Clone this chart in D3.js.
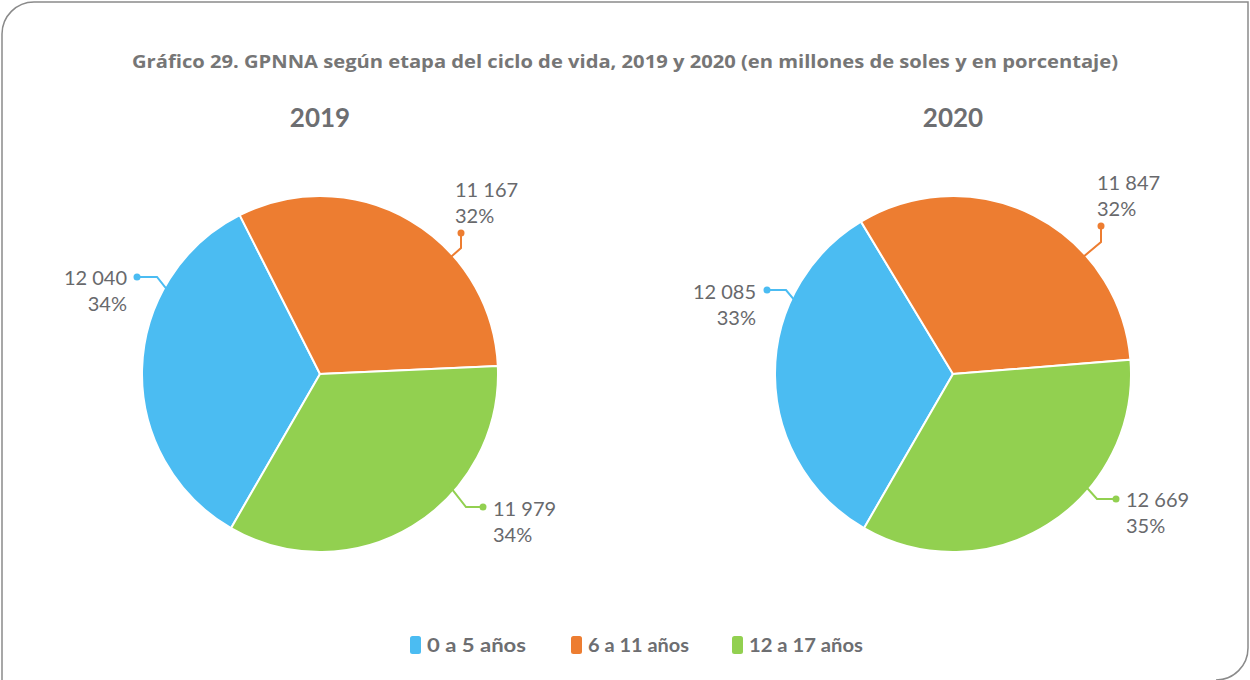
<!DOCTYPE html>
<html lang="es">
<head>
    <meta charset="UTF-8">
    <title>Gráfico 29. GPNNA según etapa del ciclo de vida</title>
    <style>
        body, html {
            margin: 0;
            padding: 0;
            background: #ffffff;
        }
        svg {
            display: block;
        }
        .title {
            font-family: 'Open Sans', sans-serif;
            font-weight: 700;
            font-size: 18px;
            fill: #767676;
        }
        .year {
            font-family: 'Lato', sans-serif;
            font-weight: 700;
            font-size: 26px;
            fill: #6d6e71;
        }
        .lbl {
            font-family: 'Lato', sans-serif;
            font-size: 20px;
            fill: #68696c;
        }
        .legend text {
            font-family: 'Lato', sans-serif;
            font-weight: 700;
            font-size: 19px;
            fill: #6d6e71;
        }
    </style>
</head>
<body>
    <svg width="1250" height="680"></svg>

    <script src="https://d3js.org/d3.v7.min.js"></script>
    <script>
        // data
        const categories = ["0 a 5 años", "6 a 11 años", "12 a 17 años"];
        const years = ["2019", "2020"];
        const values2019 = [12040, 11167, 11979];
        const values2020 = [12085, 11847, 12669];
        const colors = ["#4bbcf2", "#ed7d31", "#92d050"];

        // where each pie sits and where its labels go (relative to pie centre)
        const pieLayout = [
            {
                cx: 320, cy: 374, values: values2019,
                labels: [
                    { rim: 298.5, elbow: [-163, -97], dot: [-183, -97], tx: -193, ty: -89, anchor: "end" },
                    { rim: 48.2, elbow: [141, -126], dot: [141, -141], tx: 135, ty: -177, anchor: "start" },
                    { rim: 130.9, elbow: [146, 133], dot: [163, 133], tx: 173, ty: 142, anchor: "start" }
                ]
            },
            {
                cx: 953, cy: 374, values: values2020,
                labels: [
                    { rim: 294.5, elbow: [-167, -84], dot: [-186, -84], tx: -197, ty: -75, anchor: "end" },
                    { rim: 48, elbow: [148, -132], dot: [148, -148], tx: 144, ty: -184, anchor: "start" },
                    { rim: 130.2, elbow: [144, 125], dot: [163, 125], tx: 173, ty: 133, anchor: "start" }
                ]
            }
        ];

        const radius = 178;
        const firstSlice = 210 * Math.PI / 180; // Excel-style first slice angle

        const svg = d3.select("svg");

        // frame: rounded top-left and bottom-right corners
        svg.append("path")
            .attr("d", "M2,34 A32,32 0 0 1 34,2 L1248,2 L1248,648 A32,32 0 0 1 1216,680")
            .attr("fill", "none")
            .attr("stroke", "#8a8a8a")
            .attr("stroke-width", 1.5);
        svg.append("line")
            .attr("x1", 2).attr("y1", 34).attr("x2", 2).attr("y2", 680)
            .attr("stroke", "#8a8a8a").attr("stroke-width", 1.5);

        svg.append("text")
            .attr("class", "title")
            .attr("x", 625)
            .attr("y", 68)
            .attr("text-anchor", "middle")
            .attr("textLength", 986)
            .attr("lengthAdjust", "spacingAndGlyphs")
            .text("Gráfico 29. GPNNA según etapa del ciclo de vida, 2019 y 2020 (en millones de soles y en porcentaje)");

        const fmt = d3.formatLocale({ decimal: ",", thousands: " ", grouping: [3], currency: ["", ""] }).format(",d");

        const pie = d3.pie()
            .sort(null)
            .startAngle(firstSlice)
            .endAngle(firstSlice + 2 * Math.PI);

        const arc = d3.arc().innerRadius(0).outerRadius(radius);

        pieLayout.forEach((p, pi) => {
            const total = d3.sum(p.values);
            const g = svg.append("g").attr("transform", `translate(${p.cx},${p.cy})`);

            svg.append("text")
                .attr("class", "year")
                .attr("x", p.cx)
                .attr("y", 127)
                .attr("text-anchor", "middle")
                .text(years[pi]);

            g.selectAll("path.slice")
                .data(pie(p.values))
                .enter()
                .append("path")
                .attr("class", "slice")
                .attr("d", arc)
                .attr("fill", (d, i) => colors[i])
                .attr("stroke", "#ffffff")
                .attr("stroke-width", 2);

            p.labels.forEach((l, i) => {
                const rimPt = d3.pointRadial(l.rim * Math.PI / 180, radius - 6);
                g.append("polyline")
                    .attr("points", [rimPt, l.elbow, l.dot].map(q => q.join(",")).join(" "))
                    .attr("fill", "none")
                    .attr("stroke", colors[i])
                    .attr("stroke-width", 2);
                g.append("circle")
                    .attr("cx", l.dot[0])
                    .attr("cy", l.dot[1])
                    .attr("r", 3.5)
                    .attr("fill", colors[i]);

                const t = g.append("text")
                    .attr("class", "lbl")
                    .attr("text-anchor", l.anchor);
                t.append("tspan")
                    .attr("x", l.tx).attr("y", l.ty)
                    .text(fmt(p.values[i]));
                t.append("tspan")
                    .attr("x", l.tx).attr("y", l.ty + 26)
                    .text(Math.round(p.values[i] / total * 100) + "%");
            });
        });

        // legend
        const legendX = [410, 571, 732];
        const legendW = [99, 101, 114];
        const legend = svg.append("g").attr("class", "legend");
        categories.forEach((c, i) => {
            legend.append("rect")
                .attr("x", legendX[i])
                .attr("y", 636)
                .attr("width", 11)
                .attr("height", 18)
                .attr("rx", 2.5)
                .attr("fill", colors[i]);
            legend.append("text")
                .attr("x", legendX[i] + 17)
                .attr("y", 652)
                .attr("textLength", legendW[i])
                .attr("lengthAdjust", "spacingAndGlyphs")
                .text(c);
        });
    </script>
</body>
</html>
